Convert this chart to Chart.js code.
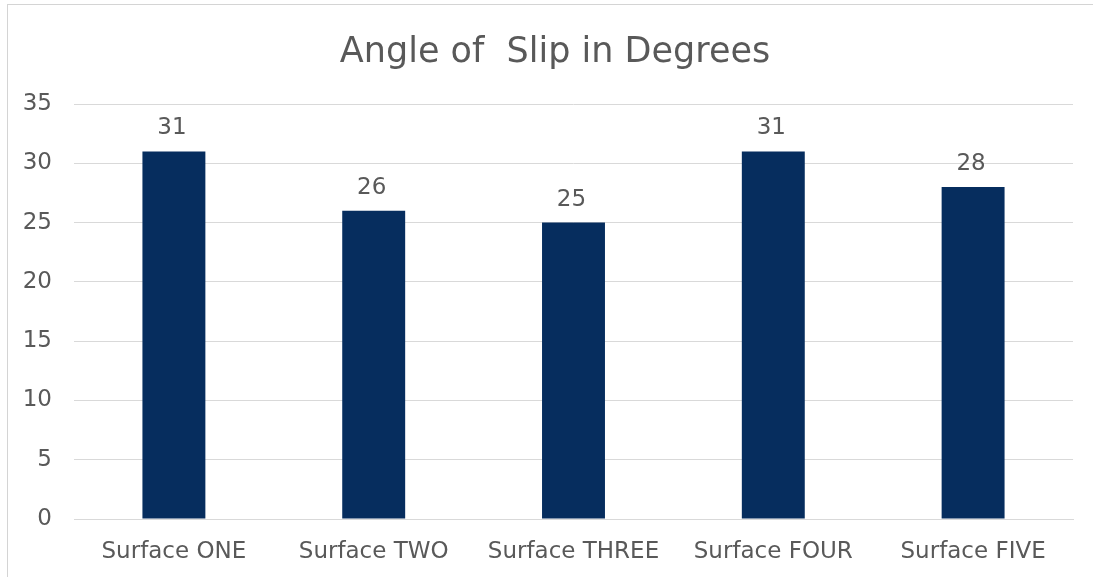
<!DOCTYPE html>
<html>
<head>
<meta charset="utf-8">
<script src="https://cdn.jsdelivr.net/npm/chart.js@4/dist/chart.umd.min.js"></script>
<style>
  html, body { margin: 0; padding: 0; background: #fff; overflow: hidden; }
  #frame {
    position: absolute; left: 7px; top: 4px; width: 1200px; height: 700px;
    border-left: 1px solid #d4d4d4; border-top: 1px solid #d4d4d4;
  }
  #wrap { position: absolute; left: 0; top: 0; width: 1093px; height: 577px; }
</style>
</head>
<body>
<div id="frame"></div>
<div id="wrap"><canvas id="myChart"></canvas></div>
<script>
const categories = ["Surface ONE", "Surface TWO", "Surface THREE", "Surface FOUR", "Surface FIVE"];
const angles = [31, 26, 25, 31, 28];
const yTicks = [0, 5, 10, 15, 20, 25, 30, 35];
const chartTitle = "Angle of  Slip in Degrees";

const textColor = "#595959";
const fontFamily = "'DejaVu Sans', sans-serif";

// title (centred on the whole frame, not the canvas) and the value above each bar
const extraText = {
  id: "extraText",
  afterDatasetsDraw(chart) {
    const ctx = chart.ctx;
    const meta = chart.getDatasetMeta(0);
    ctx.save();
    ctx.fillStyle = textColor;
    ctx.textAlign = "center";
    ctx.textBaseline = "alphabetic";

    ctx.font = "35px " + fontFamily;
    ctx.fillText(chartTitle, 555, 62);

    ctx.font = "23px " + fontFamily;
    meta.data.forEach((bar, i) => {
      ctx.fillText(String(angles[i]), bar.x - 2, bar.y - 17);
    });
    ctx.restore();
  },
};

const ctx = document.getElementById("myChart");

new Chart(ctx, {
  type: "bar",
  data: {
    labels: categories,
    datasets: [
      {
        label: "Angle of Slip",
        data: angles,
        backgroundColor: "#062d5e",
        barPercentage: 0.315,
        categoryPercentage: 1,
      },
    ],
  },
  options: {
    responsive: true,
    maintainAspectRatio: false,
    animation: false,
    layout: { padding: { left: 0, right: 20, top: 104, bottom: 0 } },
    plugins: {
      legend: { display: false },
      tooltip: { enabled: false },
      title: { display: false },
    },
    scales: {
      x: {
        afterFit(scale) { scale.height = 58; },
        grid: { display: false, drawTicks: false },
        border: { color: "#d9d9d9", width: 1 },
        ticks: {
          color: textColor,
          font: { family: fontFamily, size: 23 },
          padding: 19,
          maxRotation: 0,
        },
      },
      y: {
        min: 0,
        max: 35,
        afterFit(scale) { scale.width = 74; },
        afterBuildTicks(scale) { scale.ticks = yTicks.map((v) => ({ value: v })); },
        grid: { color: "#d9d9d9", lineWidth: 1, drawTicks: false },
        border: { display: false },
        ticks: {
          color: textColor,
          font: { family: fontFamily, size: 23 },
          padding: 22,
        },
      },
    },
  },
  plugins: [extraText],
});
</script>
</body>
</html>
